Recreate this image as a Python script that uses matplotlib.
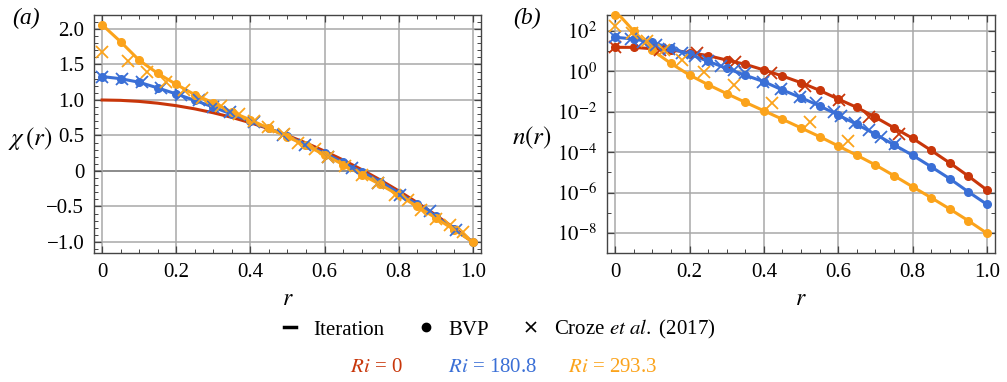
import numpy as np
import matplotlib
matplotlib.use("Agg")
import matplotlib.pyplot as plt
from matplotlib.lines import Line2D
from matplotlib.ticker import FixedLocator, FuncFormatter, MultipleLocator

plt.rcParams['font.family'] = ['Liberation Serif', 'DejaVu Serif']
plt.rcParams['mathtext.fontset'] = 'stix'

RED = '#c8360a'
BLUE = '#3a6fd6'
ORANGE = '#fba31b'

# BVP grid
r_bvp = [0.0, 0.05, 0.1, 0.15, 0.2, 0.25, 0.3, 0.35, 0.4, 0.45, 0.5,
         0.55, 0.6, 0.65, 0.7, 0.75, 0.8, 0.85, 0.9, 0.95, 1.0]

# (a) chi(r)
chi_red_line = [1.0, 0.995, 0.98, 0.955, 0.92, 0.875, 0.82, 0.755, 0.68, 0.595, 0.5,
                0.395, 0.28, 0.155, 0.02, -0.125, -0.28, -0.445, -0.62, -0.805, -1.0]
chi_blue = [1.33, 1.30, 1.25, 1.17, 1.085, 0.995, 0.90, 0.80, 0.70, 0.60, 0.49,
            0.37, 0.25, 0.12, -0.01, -0.15, -0.31, -0.47, -0.64, -0.82, -1.0]
chi_orange = [2.06, 1.82, 1.56, 1.375, 1.22, 1.075, 0.96, 0.83, 0.72, 0.60, 0.48,
              0.36, 0.23, 0.09, -0.05, -0.19, -0.34, -0.50, -0.66, -0.83, -1.0]

r_chi_croze_blue = [0.0, 0.053, 0.107, 0.159, 0.213, 0.262, 0.30, 0.345, 0.41, 0.489,
                    0.547, 0.61, 0.673, 0.745, 0.803, 0.884, 0.956]
chi_croze_blue = [1.33, 1.296, 1.25, 1.165, 1.07, 1.0, 0.90, 0.835, 0.69, 0.51,
                  0.37, 0.20, 0.04, -0.17, -0.34, -0.57, -0.83]
r_chi_croze_orange = [0.0, 0.071, 0.12, 0.172, 0.22, 0.27, 0.32, 0.37, 0.41, 0.448, 0.49,
                      0.529, 0.574, 0.61, 0.655, 0.70, 0.745, 0.79, 0.826, 0.86, 0.90,
                      0.938, 0.974]
chi_croze_orange = [1.68, 1.55, 1.39, 1.25, 1.14, 1.03, 0.91, 0.80, 0.71, 0.615, 0.52,
                    0.40, 0.305, 0.20, 0.07, -0.05, -0.17, -0.34, -0.41, -0.55, -0.67,
                    -0.76, -0.855]

# (b) log10 n(r)
logn_red = [1.19, 1.19, 1.12, 1.06, 0.93, 0.78, 0.56, 0.35, 0.07, -0.23, -0.56,
            -0.94, -1.37, -1.78, -2.27, -2.79, -3.31, -3.91, -4.53, -5.18, -5.87]
logn_blue = [1.69, 1.60, 1.44, 1.14, 0.85, 0.50, 0.15, -0.19, -0.51, -0.92, -1.30,
             -1.71, -2.16, -2.62, -3.11, -3.63, -4.15, -4.72, -5.31, -5.96, -6.58]
logn_orange = [2.79, 1.99, 1.05, 0.39, -0.18, -0.66, -1.10, -1.53, -1.95, -2.37, -2.80,
               -3.23, -3.69, -4.15, -4.63, -5.16, -5.71, -6.25, -6.81, -7.39, -8.01]
# iteration line for orange, denser near r = 0
r_orange_line = [0.0, 0.015, 0.03, 0.05, 0.1, 0.15, 0.2, 0.25, 0.3, 0.35, 0.4, 0.45, 0.5,
                 0.55, 0.6, 0.65, 0.7, 0.75, 0.8, 0.85, 0.9, 0.95, 1.0]
logn_orange_line = [2.79, 2.70, 2.40, 1.99, 1.05, 0.39, -0.18, -0.66, -1.10, -1.53, -1.95,
                    -2.37, -2.80, -3.23, -3.69, -4.15, -4.63, -5.16, -5.71, -6.25, -6.81,
                    -7.39, -8.01]

r_n_croze_red = [0.0, 0.12, 0.22, 0.323, 0.42, 0.512, 0.601, 0.683, 0.764]
logn_croze_red = [1.19, 1.08, 0.90, 0.48, -0.08, -0.70, -1.42, -2.24, -3.11]
r_n_croze_blue = [0.0, 0.042, 0.075, 0.11, 0.145, 0.18, 0.215, 0.25, 0.285, 0.32, 0.348,
                  0.397, 0.447, 0.496, 0.541, 0.59, 0.608, 0.644, 0.683, 0.716, 0.752]
logn_croze_blue = [1.69, 1.59, 1.47, 1.31, 1.12, 0.93, 0.74, 0.52, 0.28, 0.05, -0.10,
                   -0.51, -0.89, -1.25, -1.58, -2.0, -2.2, -2.54, -2.90, -3.26, -3.59]
r_n_croze_orange = [0.0, 0.044, 0.085, 0.13, 0.179, 0.238, 0.319, 0.422, 0.523, 0.626]
logn_croze_orange = [2.27, 1.89, 1.49, 1.08, 0.54, -0.01, -0.67, -1.58, -2.49, -3.45]

x_ticks = [0, 0.2, 0.4, 0.6, 0.8, 1.0]
chi_ticks = [-1.0, -0.5, 0, 0.5, 1.0, 1.5, 2.0]
n_decades = [-8, -6, -4, -2, 0, 2]

fig = plt.figure(figsize=(10.07, 3.82), dpi=100)
axa = fig.add_axes([0.0933, 0.3377, 0.3843, 0.623])
axb = fig.add_axes([0.6028, 0.3377, 0.3853, 0.623])


def fmt(v, pos):
    if abs(v) < 1e-9:
        return '0'
    return ('%.1f' % v).replace('-', '\u2212')


def style(ax):
    ax.set_xlim(-0.022, 1.022)
    ax.xaxis.set_major_locator(FixedLocator(x_ticks))
    ax.xaxis.set_minor_locator(MultipleLocator(0.05))
    ax.xaxis.set_major_formatter(FuncFormatter(fmt))
    ax.grid(True, which='major', color='#a8a8a8', lw=1.1)
    ax.tick_params(which='both', direction='in', top=True, right=True, labelsize=15,
                   color='#444444', pad=7)
    ax.tick_params(which='major', length=5, width=0.9)
    ax.tick_params(which='minor', length=3, width=0.7)
    for s in ax.spines.values():
        s.set_color('#444444')
        s.set_linewidth(1.0)
    ax.set_xlabel('$r$', fontsize=17)
    ax.xaxis.set_label_coords(0.5, -0.15)


# panel (a)
style(axa)
axa.set_ylim(-1.155, 2.197)
axa.yaxis.set_major_locator(FixedLocator(chi_ticks))
axa.yaxis.set_minor_locator(MultipleLocator(0.1))
axa.yaxis.set_major_formatter(FuncFormatter(fmt))
axa.axhline(0, color='black', lw=1.1, zorder=1.5)
axa.plot(r_bvp, chi_red_line, color=RED, lw=2.2, zorder=3)
axa.plot(r_bvp, chi_blue, color=BLUE, lw=2.2, marker='o', ms=5.5, zorder=4)
axa.plot(r_bvp, chi_orange, color=ORANGE, lw=2.2, marker='o', ms=5.5, zorder=4)
axa.plot(r_chi_croze_blue, chi_croze_blue, ls='none', marker='x', ms=8, mew=1.3,
         color=BLUE, zorder=5)
axa.plot(r_chi_croze_orange, chi_croze_orange, ls='none', marker='x', ms=8, mew=1.3,
         color=ORANGE, zorder=5)
axa.set_ylabel(r'$\chi\,(r)$', fontsize=18, rotation=0, va='center', ha='center')
axa.yaxis.set_label_coords(-0.165, 0.483)

# panel (b)
style(axb)
axb.set_yscale('log')
axb.set_ylim(10 ** -8.99, 10 ** 2.79)
axb.yaxis.set_major_locator(FixedLocator([10.0 ** k for k in n_decades]))
axb.yaxis.set_minor_locator(FixedLocator([10.0 ** k for k in range(-9, 3)]))
axb.yaxis.set_major_formatter(
    FuncFormatter(lambda v, p: '$10^{%d}$' % int(round(np.log10(v)))))
axb.yaxis.set_minor_formatter(FuncFormatter(lambda v, p: ''))
axb.plot(r_bvp, 10.0 ** np.array(logn_red), color=RED, lw=2.2, marker='o', ms=5.5, zorder=4)
axb.plot(r_bvp, 10.0 ** np.array(logn_blue), color=BLUE, lw=2.2, marker='o', ms=5.5, zorder=4)
axb.plot(r_orange_line, 10.0 ** np.array(logn_orange_line), color=ORANGE, lw=2.2, zorder=4)
axb.plot(r_bvp, 10.0 ** np.array(logn_orange), ls='none', color=ORANGE, marker='o', ms=5.5,
         zorder=4, clip_on=False)
axb.plot(r_n_croze_red, 10.0 ** np.array(logn_croze_red), ls='none', marker='x', ms=8,
         mew=1.3, color=RED, zorder=5)
axb.plot(r_n_croze_blue, 10.0 ** np.array(logn_croze_blue), ls='none', marker='x', ms=8,
         mew=1.3, color=BLUE, zorder=5)
axb.plot(r_n_croze_orange, 10.0 ** np.array(logn_croze_orange), ls='none', marker='x', ms=8,
         mew=1.3, color=ORANGE, zorder=5)
axb.set_ylabel('$n(r)$', fontsize=18, rotation=0, va='center', ha='center')
axb.yaxis.set_label_coords(-0.193, 0.483)

fig.text(0.012, 0.952, '(a)', fontsize=17, style='italic', va='center')
fig.text(0.51, 0.952, '(b)', fontsize=17, style='italic', va='center')

# legend rows
handles = [Line2D([], [], color='black', lw=2.5),
           Line2D([], [], color='black', ls='none', marker='o', ms=6),
           Line2D([], [], color='black', ls='none', marker='x', ms=7, mew=1.2)]
labels = ['Iteration', 'BVP', r'Croze $\it{et\ al.}$ (2017)']
fig.legend(handles, labels, loc='center', bbox_to_anchor=(0.496, 0.137), ncol=3,
           frameon=False, fontsize=15, handlelength=0.6, handletextpad=0.8,
           columnspacing=1.7)

fig.text(0.374, 0.037, r'$\it{Ri}$ = 0', color=RED, fontsize=15, ha='center', va='center')
fig.text(0.489, 0.037, r'$\it{Ri}$ = 180.8', color=BLUE, fontsize=15, ha='center', va='center')
fig.text(0.608, 0.037, r'$\it{Ri}$ = 293.3', color=ORANGE, fontsize=15, ha='center', va='center')

fig.savefig('out.png', dpi=100)
